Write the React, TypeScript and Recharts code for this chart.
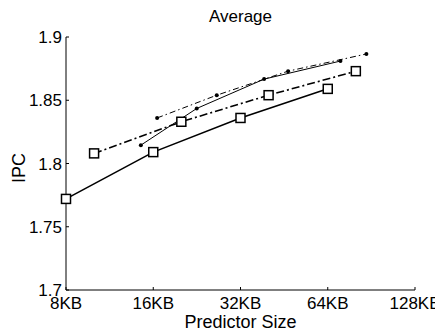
import React from 'react';
import { ComposedChart, Line, XAxis, YAxis, Customized } from 'recharts';

const xTicks = [8, 16, 32, 64, 128];
const yTicks = [1.7, 1.75, 1.8, 1.85, 1.9];

const sizesA = [8, 16, 32, 64];
const ipcA = [1.772, 1.809, 1.836, 1.859];
const sizesB = [10, 20, 40, 80];
const ipcB = [1.808, 1.833, 1.854, 1.873];
const sizesC = [14.5, 22.6, 38.6, 70.8];
const ipcC = [1.8145, 1.8435, 1.8667, 1.881];
const sizesD = [16.5, 26.5, 46.7, 87];
const ipcD = [1.836, 1.854, 1.873, 1.8866];

const toData = (xs: number[], ys: number[]) => xs.map((x, i) => ({ x, y: ys[i] }));
const dataA = toData(sizesA, ipcA);
const dataB = toData(sizesB, ipcB);
const dataC = toData(sizesC, ipcC);
const dataD = toData(sizesD, ipcD);

const FONT = '"Liberation Sans", Arial, Helvetica, sans-serif';

const SquareDot = (props: any) => {
  const { cx, cy } = props;
  if (cx == null || cy == null) return null;
  return <rect x={cx - 4.5} y={cy - 4.5} width={9} height={9} fill="#fff" stroke="#000" strokeWidth={1.5} />;
};
const SmallDot = (props: any) => {
  const { cx, cy } = props;
  if (cx == null || cy == null) return null;
  return <circle cx={cx} cy={cy} r={2} fill="#000" stroke="none" />;
};

const Texts = () => (
  <g fontFamily={FONT} fill="#000">
    <text x={232.5} y={14} textAnchor="middle" fontSize={17}>Average</text>
    <text x={232.5} y={320} textAnchor="middle" fontSize={18}>Predictor Size</text>
    <text x={10.7} y={160} transform="rotate(-90 10.7 160)" textAnchor="middle" dominantBaseline="central" fontSize={18}>IPC</text>
  </g>
);

export default function App() {
  return (
    <ComposedChart width={435} height={324} margin={{ top: 29, right: 28, left: 0, bottom: 0 }}>
      <XAxis
        type="number"
        dataKey="x"
        scale="log"
        domain={[8, 128]}
        ticks={xTicks}
        tickFormatter={(v: number) => `${v}KB`}
        height={42}
        tickSize={-3}
        tickMargin={10}
        axisLine={{ stroke: '#000', strokeWidth: 1 }}
        tickLine={{ stroke: '#000' }}
        tick={{ fill: '#000', fontSize: 17, fontFamily: FONT }}
        interval={0}
      />
      <YAxis
        type="number"
        dataKey="y"
        domain={[1.7, 1.9]}
        ticks={yTicks}
        width={58}
        tickSize={-3}
        tickMargin={7}
        axisLine={{ stroke: '#000', strokeWidth: 1 }}
        tickLine={{ stroke: '#000' }}
        tick={{ fill: '#000', fontSize: 17, fontFamily: FONT }}
        interval={0}
      />
      <Line data={dataC} dataKey="y" stroke="#000" strokeWidth={1} dot={<SmallDot />} activeDot={false} isAnimationActive={false} type="linear" />
      <Line data={dataD} dataKey="y" stroke="#000" strokeWidth={1} strokeDasharray="6 3 1.5 3" dot={<SmallDot />} activeDot={false} isAnimationActive={false} type="linear" />
      <Line data={dataA} dataKey="y" stroke="#000" strokeWidth={1.6} dot={<SquareDot />} activeDot={false} isAnimationActive={false} type="linear" />
      <Line data={dataB} dataKey="y" stroke="#000" strokeWidth={1.6} strokeDasharray="8 3 2 3" dot={<SquareDot />} activeDot={false} isAnimationActive={false} type="linear" />
      <Customized component={Texts} />
    </ComposedChart>
  );
}
